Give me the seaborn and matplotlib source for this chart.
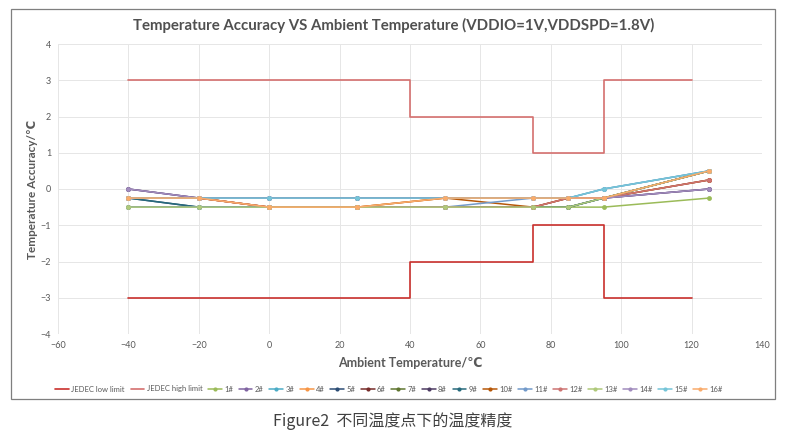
import pandas as pd
import seaborn as sns
import matplotlib
matplotlib.use('Agg')
import matplotlib.pyplot as plt
from matplotlib.lines import Line2D
from matplotlib.patches import Rectangle

# test temperatures and measured accuracy of the 16 parts
temps = [-40, -20, 0, 25, 50, 75, 85, 95, 125]
s1 = [-0.5, -0.5, -0.5, -0.5, -0.5, -0.5, -0.5, -0.5, -0.25]
s2 = [0, -0.25, -0.25, -0.25, -0.25, -0.25, -0.25, -0.25, 0]
s3 = [-0.25, -0.25, -0.25, -0.25, -0.25, -0.25, -0.25, 0, 0.5]
s4 = [-0.25, -0.25, -0.5, -0.5, -0.25, -0.25, -0.25, -0.25, 0.5]
s5 = [-0.25, -0.5, -0.5, -0.5, -0.5, -0.5, -0.5, -0.25, 0.5]
s6 = [-0.25, -0.25, -0.5, -0.5, -0.5, -0.5, -0.25, -0.25, 0.25]
s7 = [-0.5, -0.5, -0.5, -0.5, -0.5, -0.5, -0.5, -0.25, 0.5]
s8 = [0, -0.25, -0.25, -0.25, -0.25, -0.25, -0.25, -0.25, 0]
s9 = [-0.25, -0.5, -0.5, -0.5, -0.5, -0.5, -0.5, -0.25, 0.5]
s10 = [-0.25, -0.25, -0.5, -0.5, -0.25, -0.5, -0.25, -0.25, 0.25]
s11 = [-0.5, -0.5, -0.5, -0.5, -0.5, -0.25, -0.25, 0, 0.5]
s12 = [-0.25, -0.25, -0.5, -0.5, -0.5, -0.5, -0.25, -0.25, 0.25]
s13 = [-0.5, -0.5, -0.5, -0.5, -0.5, -0.5, -0.5, -0.25, 0.5]
s14 = [0, -0.25, -0.25, -0.25, -0.25, -0.25, -0.25, -0.25, 0]
s15 = [-0.25, -0.25, -0.25, -0.25, -0.25, -0.25, -0.25, 0, 0.5]
s16 = [-0.25, -0.25, -0.5, -0.5, -0.25, -0.25, -0.25, -0.25, 0.5]
parts = [s1, s2, s3, s4, s5, s6, s7, s8, s9, s10, s11, s12, s13, s14, s15, s16]
part_names = [f'{i}#' for i in range(1, 17)]

# JEDEC limit steps
jedec_x = [-40, 40, 40, 75, 75, 95, 95, 120]
jedec_high = [3, 3, 2, 2, 1, 1, 3, 3]
jedec_low = [-3, -3, -2, -2, -1, -1, -3, -3]

part_colors = ['#9BBB59', '#8064A2', '#4BACC6', '#F79646', '#2C4D75', '#772C2A',
               '#5F7530', '#4D3B62', '#276A7C', '#B65708', '#729ACA', '#CD7371',
               '#AFC97A', '#A18BBD', '#75C5D8', '#F9AB6B']
low_color = '#C9302C'
high_color = '#D4706E'
grey = '#595959'

sns.set_style('white')
plt.rcParams['font.family'] = ['Lato', 'DejaVu Sans']

fig = plt.figure(figsize=(7.87, 4.38), dpi=100)
ax = fig.add_axes([58 / 787, 104 / 438, 704 / 787, 290 / 438])

jedec = pd.DataFrame({'x': jedec_x, 'low': jedec_low, 'high': jedec_high})
sns.lineplot(data=jedec, x='x', y='low', estimator=None, sort=False,
             color=low_color, linewidth=1.2, ax=ax)
sns.lineplot(data=jedec, x='x', y='high', estimator=None, sort=False,
             color=high_color, linewidth=1.2, ax=ax)

for name, vals, col in zip(part_names, parts, part_colors):
    d = pd.DataFrame({'temp': temps, 'acc': vals})
    sns.lineplot(data=d, x='temp', y='acc', estimator=None, sort=False,
                 color=col, linewidth=1.1, marker='o', markersize=3.5,
                 markeredgewidth=0, ax=ax)

ax.set_xlim(-60, 140)
ax.set_ylim(-4, 4)
ax.set_xticks(range(-60, 141, 20))
ax.set_yticks(range(-4, 5))
ax.grid(True, color='#E6E6E6', linewidth=0.7)
for sp in ax.spines.values():
    sp.set_visible(False)
ax.axhline(-4, color='#E6E6E6', linewidth=0.7, zorder=0)
ax.tick_params(labelsize=6.5, colors=grey, length=0, pad=5)
ax.set_xlabel('Ambient Temperature/℃', fontsize=9, fontweight='bold', color=grey,
              labelpad=5, family=['Lato', 'DejaVu Sans'])
ax.set_ylabel('Temperature Accuracy/℃', fontsize=8.5, fontweight='bold', color=grey,
              labelpad=2, family=['Lato', 'DejaVu Sans'])

fig.text(394 / 787, 1 - 25 / 438,
         'Temperature Accuracy VS Ambient Temperature (VDDIO=1V,VDDSPD=1.8V)',
         ha='center', va='center', fontsize=10.8, fontweight='bold', color='#505050')

# legend row
handles = [Line2D([], [], color=low_color, linewidth=1.2),
           Line2D([], [], color=high_color, linewidth=1.2)]
labels = ['JEDEC low limit', 'JEDEC high limit']
for name, col in zip(part_names, part_colors):
    handles.append(Line2D([], [], color=col, linewidth=1.1, marker='o',
                          markersize=3, markeredgewidth=0))
    labels.append(name)
fig.legend(handles, labels, loc='center', bbox_to_anchor=(389 / 787, 1 - 389 / 438),
           ncol=18, frameon=False, fontsize=5.5, handlelength=1.8,
           handletextpad=0.3, columnspacing=0.75, labelcolor=grey)

# outer chart frame
fig.patches.append(Rectangle((11 / 787, 39 / 438), 764 / 787, 390 / 438,
                             transform=fig.transFigure, fill=False,
                             edgecolor='#7F7F7F', linewidth=0.9))

fig.text(393 / 787, 1 - 421 / 438, 'Figure2  不同温度点下的温度精度',
         ha='center', va='center', fontsize=11.5, color='#404040',
         family=['Noto Sans CJK SC', 'DejaVu Sans'])

fig.savefig('out.png', dpi=100, facecolor='white')
